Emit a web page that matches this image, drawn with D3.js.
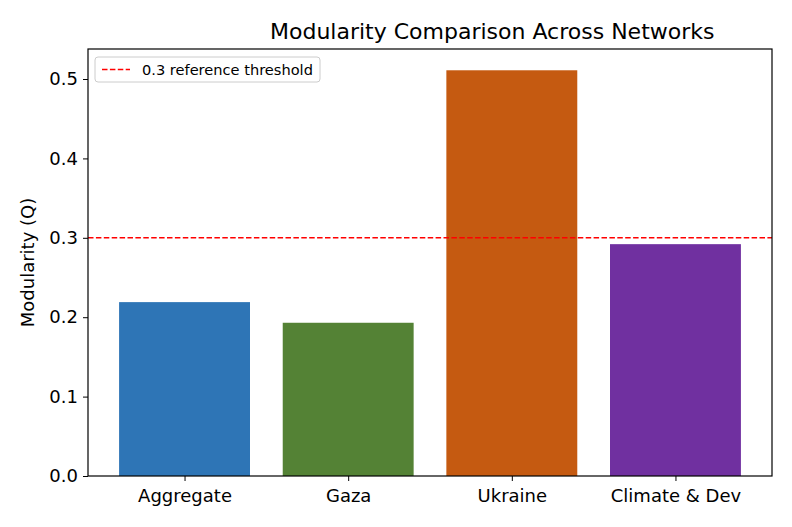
<!DOCTYPE html>
<html>
<head>
<meta charset="utf-8">
<script src="https://cdn.jsdelivr.net/npm/d3@7"></script>
<style>
  html, body { margin: 0; padding: 0; background: #fff; overflow: hidden; }
  svg { display: block; }
  text { font-family: "DejaVu Sans", sans-serif; }
</style>
</head>
<body>
<div id="chart"></div>
<script>
// data
const networks = ["Aggregate", "Gaza", "Ukraine", "Climate & Dev"];
const modularity = [0.219, 0.193, 0.511, 0.292];
const barColors = ["#2E75B6", "#548235", "#C55A11", "#7030A0"];
const yTicks = [0.0, 0.1, 0.2, 0.3, 0.4, 0.5];
const threshold = 0.3;

const width = 792;
const height = 527;
const margin = { top: 49, bottom: 51, left: 88, right: 20 };
const innerWidth = width - margin.left - margin.right;
const innerHeight = height - margin.top - margin.bottom;

const svg = d3.select("#chart").append("svg")
  .attr("width", width)
  .attr("height", height);

const g = svg.append("g")
  .attr("transform", `translate(${margin.left},${margin.top})`);

// matplotlib-like positions: bar i at x=i, width 0.8, 5% margins
const xScale = d3.scaleLinear().domain([-0.59, 3.59]).range([0, innerWidth]);
const yScale = d3.scaleLinear().domain([0, 0.5378]).range([innerHeight, 0]);
const barW = xScale(0.8) - xScale(0);

g.selectAll("rect.bar")
  .data(modularity)
  .join("rect")
  .attr("class", "bar")
  .attr("x", (d, i) => xScale(i - 0.4))
  .attr("y", d => yScale(d))
  .attr("width", barW)
  .attr("height", d => innerHeight - yScale(d))
  .attr("fill", (d, i) => barColors[i]);

// threshold line
g.append("line")
  .attr("x1", 0).attr("x2", innerWidth)
  .attr("y1", yScale(threshold)).attr("y2", yScale(threshold))
  .attr("stroke", "#ff0000")
  .attr("stroke-width", 1.5)
  .attr("stroke-dasharray", "5.5,2.4");

// axes
g.append("g")
  .call(d3.axisLeft(yScale).tickValues(yTicks).tickFormat(d3.format(".1f")).tickSizeOuter(0).tickSize(5).tickPadding(5))
  .call(ax => ax.select(".domain").remove())
  .call(ax => ax.selectAll("text").attr("font-size", 18).attr("fill", "#000"))
  .call(ax => ax.selectAll("line").attr("stroke", "#000"));

g.append("g")
  .attr("transform", `translate(0,${innerHeight})`)
  .call(d3.axisBottom(xScale).tickValues(d3.range(networks.length)).tickFormat(i => networks[i]).tickSize(5).tickPadding(8))
  .call(ax => ax.select(".domain").remove())
  .call(ax => ax.selectAll("text").attr("font-size", 18).attr("fill", "#000"))
  .call(ax => ax.selectAll("line").attr("stroke", "#000"));

// frame
g.append("rect")
  .attr("width", innerWidth).attr("height", innerHeight)
  .attr("fill", "none").attr("stroke", "#000").attr("stroke-width", 1.2);

// legend
const legend = g.append("g").attr("transform", "translate(7,8)");
legend.append("rect")
  .attr("width", 225).attr("height", 25).attr("rx", 3)
  .attr("fill", "#fff").attr("fill-opacity", 0.8)
  .attr("stroke", "#ccc");
legend.append("line")
  .attr("x1", 7).attr("x2", 35).attr("y1", 12.5).attr("y2", 12.5)
  .attr("stroke", "#ff0000").attr("stroke-width", 1.5)
  .attr("stroke-dasharray", "5.5,2.4");
legend.append("text")
  .attr("x", 47).attr("y", 17.5)
  .attr("font-size", 14.6)
  .text("0.3 reference threshold");

// y label
svg.append("text")
  .attr("transform", `translate(34,${margin.top + innerHeight / 2}) rotate(-90)`)
  .attr("text-anchor", "middle")
  .attr("font-size", 18)
  .text("Modularity (Q)");

// title
svg.append("text")
  .attr("x", 270).attr("y", 39)
  .attr("font-size", 22)
  .text("Modularity Comparison Across Networks");
</script>
</body>
</html>
